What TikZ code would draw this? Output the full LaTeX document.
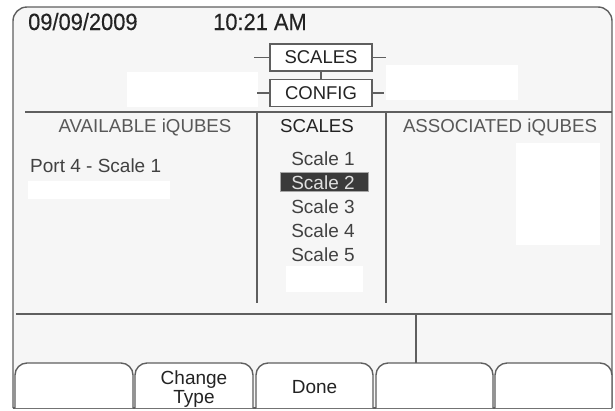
\documentclass[tikz,border=0pt]{standalone}
\usepackage{fontspec}
\setmainfont{Liberation Sans}
\newfontfamily\datefont[FakeStretch=0.93,FakeBold=0.25]{Liberation Sans}
\definecolor{bg}{RGB}{246,246,246}
\definecolor{ln}{RGB}{95,95,95}
\definecolor{tx}{RGB}{35,35,35}
\definecolor{hd}{RGB}{88,88,88}
\definecolor{it}{RGB}{65,65,65}
\definecolor{hl}{RGB}{58,58,58}
\tikzset{
  frameline/.style={draw=ln, line width=1.4pt},
  thin/.style={draw=ln, line width=1.2pt},
  big/.style={font=\datefont\fontsize{23.5}{26}\selectfont, text=tx, inner sep=0pt},
  lbl/.style={font=\fontsize{19}{22}\selectfont, text=tx, inner sep=0pt},
  head/.style={font=\fontsize{18.7}{22}\selectfont, text=hd, inner sep=0pt},
  tab/.style={draw=ln, line width=1.2pt, fill=white, minimum width=102pt, minimum height=27pt, inner sep=0pt, font=\fontsize{18.5}{22}\selectfont, text=tx},
  patch/.style={fill=white},
  hlbox/.style={fill=hl, draw=gray!70, line width=0.8pt, minimum width=88pt, minimum height=19pt, inner sep=0pt}
}
\begin{document}
\begin{tikzpicture}[x=1pt,y=-1pt]
\useasboundingbox (0,0) rectangle (615,410);
% background
\fill[bg] (13,408) rectangle (612,30);
\fill[bg,rounded corners=14] (13,40) rectangle (612,7);
% white patches
\fill[patch] (127,72) rectangle (258,107);
\fill[patch] (386,65) rectangle (518,100);
\fill[patch] (28,181) rectangle (170,199);
\fill[patch] (516,143) rectangle (600,245);
\fill[patch] (286,266) rectangle (363,292);
% frame
\draw[frameline, rounded corners=14] (13,408) -- (13,7) -- (612,7) -- (612,408);
\draw[frameline] (13,408) -- (612,408);
% date / time
\node[big, anchor=base west] (date) at (28,30) {09/09/2009};
\node[big, anchor=base west] (time) at (213,30) {10:21 AM};
% tabs
\node[tab] (scales) at (321,57.5) {SCALES};
\node[tab] (config) at (321,93) {CONFIG};
\draw[thin] (scales.west) -- ++(-15,0);
\draw[thin] (scales.east) -- ++(13,0);
\draw[thin] (config.west) -- ++(-12,0);
\draw[thin] (config.east) -- ++(11,0);
\draw[thin] (scales.south) -- (config.north);
% dividers
\coordinate (h1a) at (25,112);
\coordinate (h1b) at (612,112);
\draw[frameline] (h1a) -- (h1b);
\coordinate (v1a) at (257,112);
\coordinate (v1b) at (257,303);
\draw[frameline] (v1a) -- (v1b);
\coordinate (v2a) at (386,112);
\coordinate (v2b) at (386,303);
\draw[frameline] (v2a) -- (v2b);
\coordinate (h2a) at (16,314);
\coordinate (h2b) at (612,314);
\draw[frameline] (h2a) -- (h2b);
\coordinate (v3a) at (416,314);
\coordinate (v3b) at (416,363);
\draw[frameline] (v3a) -- (v3b);
% headers
\node[head, anchor=base] (avail) at (145,132) {AVAILABLE iQUBES};
\node[lbl, anchor=base, font=\fontsize{18.7}{22}\selectfont] (sch) at (317,132) {SCALES};
\node[head, anchor=base] (assoc) at (500,132) {ASSOCIATED iQUBES};
% list content
\node[lbl, anchor=base west, text=it] (port) at (30,172) {Port 4 - Scale 1};
\node[hlbox] (sel) at (324,182) {};
\node[lbl, anchor=base, text=it] (s1) at (323,165) {Scale 1};
\node[lbl, anchor=base, text=gray!25] (s2) at (323,189) {Scale 2};
\node[lbl, anchor=base, text=it] (s3) at (323,213) {Scale 3};
\node[lbl, anchor=base, text=it] (s4) at (323,237) {Scale 4};
\node[lbl, anchor=base, text=it] (s5) at (323,261) {Scale 5};
% buttons
\foreach \a/\b in {15/133, 135/253, 256/373, 376/493, 495/612}{
  \fill[white, rounded corners=12] (\a,408) -- (\a,363) -- (\b,363) -- (\b,408);
  \draw[frameline, rounded corners=12] (\a,408) -- (\a,363) -- (\b,363) -- (\b,408);
}
\node[lbl, anchor=base] (chg) at (194,384) {Change};
\node[lbl, anchor=base] (typ) at (194,403) {Type};
\node[lbl, anchor=base] (done) at (314.5,393) {Done};
\end{tikzpicture}
\end{document}
